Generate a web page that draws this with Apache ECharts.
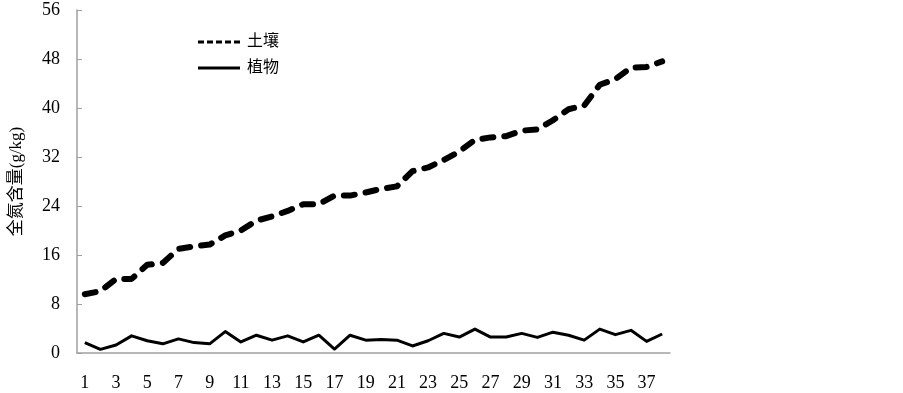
<!DOCTYPE html>
<html><head><meta charset="utf-8">
<script src="https://cdn.jsdelivr.net/npm/echarts@6/dist/echarts.min.js"></script>
<style>html,body{margin:0;padding:0;background:#fff}#c{width:903px;height:393px}</style>
</head><body><div id="c"></div>
<script>
var categories = [];
for (var i = 1; i <= 38; i++) categories.push(String(i));
var soil = [9.6,10.1,12.1,12.1,14.4,14.7,17.0,17.4,17.7,19.2,20.0,21.6,22.3,23.2,24.3,24.3,25.7,25.7,26.2,26.8,27.2,29.7,30.3,31.5,32.9,34.8,35.2,35.4,36.3,36.5,38.0,39.8,40.4,43.8,44.7,46.6,46.7,47.6];
var plant = [1.7,0.6,1.3,2.8,2.0,1.5,2.3,1.7,1.5,3.5,1.8,2.9,2.1,2.8,1.8,2.9,0.65,2.9,2.1,2.2,2.1,1.15,2.0,3.2,2.6,3.9,2.6,2.6,3.2,2.55,3.4,2.9,2.1,3.9,3.0,3.7,1.9,3.1];
var seriesNames = ['土壤','植物'];
var yName = '全氮含量(g/kg)';

var FONT = '"Liberation Serif","Noto Sans CJK SC",serif';
var dashIcon = 'path://M0,0h6v3h-6z M9,0h6v3h-6z M18,0h6v3h-6z M27,0h6v3h-6z M36,0h6v3h-6z';
var solidIcon = 'path://M0,0h42v3h-42z';
var chart = echarts.init(document.getElementById('c'));
chart.setOption({
  animation: false,
  backgroundColor: '#fff',
  grid: {left: 74, right: 233, top: 10, bottom: 40},
  legend: {
    orient: 'vertical', left: 193, top: 29, itemGap: 10,
    itemWidth: 42, itemHeight: 3,
    textStyle: {fontFamily: FONT, fontSize: 16, color: '#000', padding: [0, 0, 0, 2]},
    data: [
      {name: seriesNames[0], icon: dashIcon, itemStyle: {color: '#000'}},
      {name: seriesNames[1], icon: solidIcon, itemStyle: {color: '#000'}}
    ]
  },
  xAxis: {
    type: 'category', data: categories, boundaryGap: true,
    axisLine: {lineStyle: {color: '#a0a0a0', width: 1.5}},
    axisTick: {inside: true, length: 5, lineStyle: {color: '#a0a0a0'}},
    axisLabel: {interval: 1, margin: 21, color: '#000', fontFamily: FONT, fontSize: 18}
  },
  yAxis: {
    type: 'value', min: 0, max: 56, interval: 8,
    name: yName, nameLocation: 'middle', nameGap: 52,
    nameTextStyle: {fontFamily: FONT, fontSize: 17, color: '#000'},
    splitLine: {show: false},
    axisLine: {show: true, lineStyle: {color: '#a0a0a0', width: 1.5}},
    axisTick: {show: true, inside: true, length: 5, lineStyle: {color: '#a0a0a0'}},
    axisLabel: {margin: 17, color: '#000', fontFamily: FONT, fontSize: 18}
  },
  series: [
    {name: seriesNames[0], type: 'line', data: soil, symbol: 'none',
     lineStyle: {color: '#000', width: 6, type: [11, 11], cap: 'round', join: 'round'},
     itemStyle: {color: '#000'}},
    {name: seriesNames[1], type: 'line', data: plant, symbol: 'none',
     lineStyle: {color: '#000', width: 3, join: 'round'},
     itemStyle: {color: '#000'}}
  ]
});
</script></body></html>
